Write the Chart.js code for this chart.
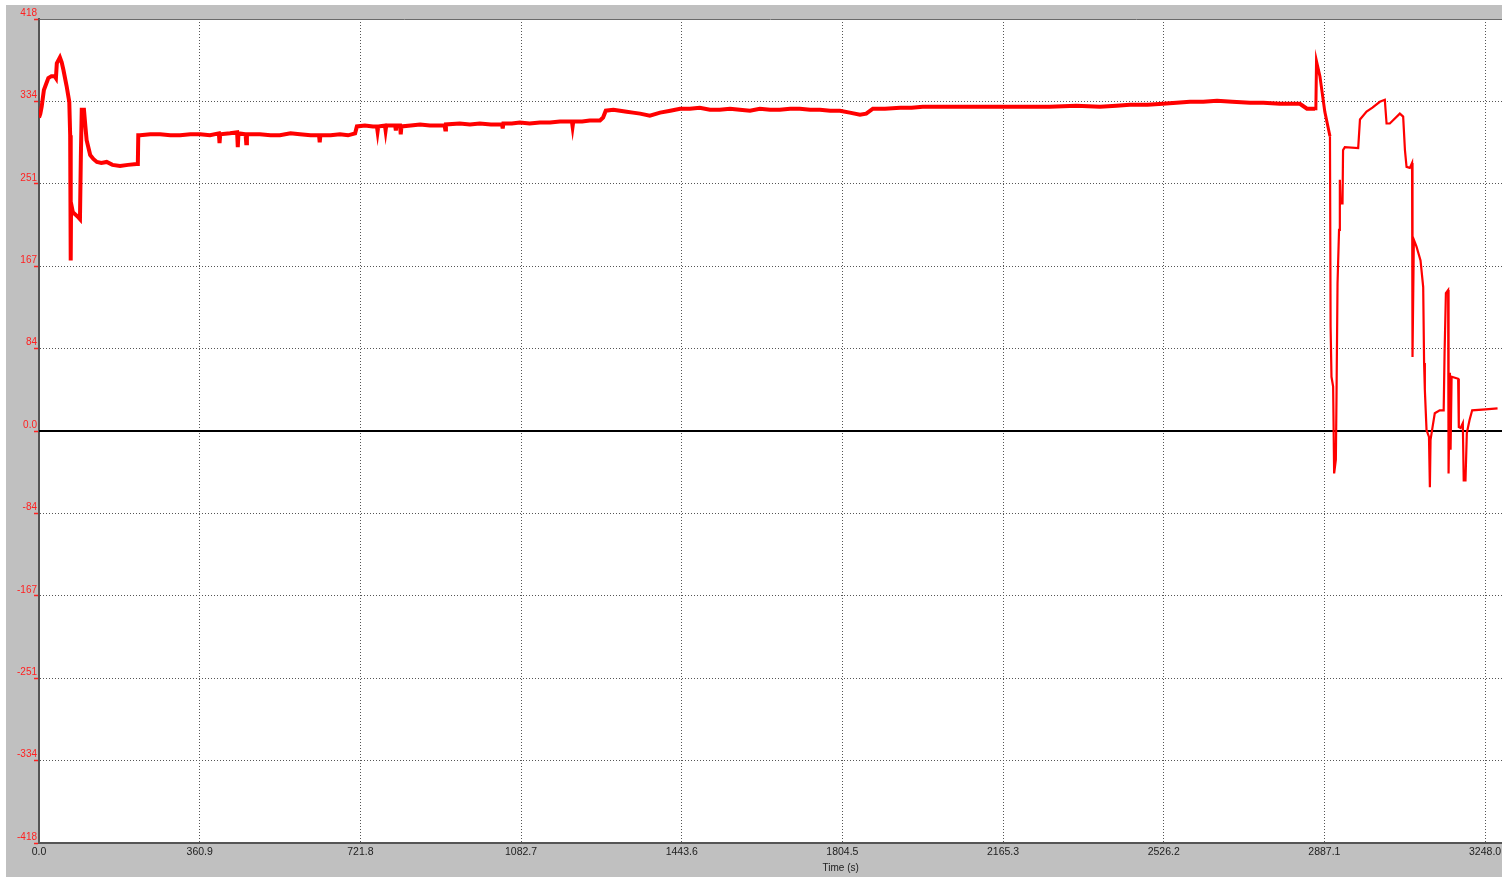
<!DOCTYPE html>
<html lang="en">
<head>
<meta charset="UTF-8">
<title>Time (s)</title>
<script src="https://cdn.jsdelivr.net/npm/chart.js"></script>
<style>
  body { margin: 0; background: #ffffff; }
  #grafico { display: block; }
</style>
</head>
<body>
<canvas id="grafico" width="1502" height="877"></canvas>
<script>
const tempo = [
  0, 3, 6, 11, 16, 21, 28, 35, 38, 40, 47, 51, 55, 62, 68, 70, 71, 71.5, 72, 76,
  88, 92, 94, 96, 101, 104, 107, 115, 122, 130, 140, 152, 165, 182, 200, 219, 222, 223, 227, 250,
  272, 295, 317, 340, 362, 384, 404, 405.5, 407, 429, 445, 446.5, 448, 464, 465.5, 467, 496, 520, 541, 565,
  586, 610, 629, 630.5, 632, 655, 676, 694, 710, 714, 732, 750, 759, 760.5, 762, 777, 778.5, 780, 788, 800,
  801.5, 803, 811, 812.5, 814, 835, 856, 878, 900, 911, 912.5, 914, 945, 968, 990, 1015, 1040, 1041.5, 1043, 1062,
  1080, 1102, 1125, 1148, 1170, 1197, 1198.5, 1200, 1220, 1237, 1260, 1267, 1273, 1290, 1305, 1320, 1334, 1350, 1372, 1395,
  1418, 1440, 1462, 1484, 1507, 1529, 1552, 1574, 1597, 1619, 1642, 1664, 1687, 1709, 1732, 1754, 1777, 1799, 1821, 1844,
  1858, 1873, 1900, 1934, 1960, 1985, 2025, 2068, 2110, 2158, 2210, 2270, 2330, 2383, 2420, 2450, 2490, 2524, 2555, 2585,
  2615, 2646, 2680, 2720, 2750, 2787, 2810, 2832, 2848, 2861, 2866, 2868, 2869.4, 2877, 2888, 2899.6, 2901, 2903, 2906.7, 2909,
  2912.8, 2914.3, 2916.6, 2920, 2921.8, 2923.3, 2927.8, 2929, 2933, 2963, 2967, 2981.8, 2995, 3011.6, 3022.8, 3026.7, 3034, 3056.5, 3064, 3068,
  3071.6, 3079, 3084, 3085, 3088, 3094, 3103, 3109, 3111, 3112.7, 3116.5, 3122, 3124, 3125.5, 3130, 3135, 3146, 3155, 3157, 3160,
  3165, 3166, 3169, 3170.5, 3172.8, 3187.5, 3189, 3193, 3198, 3200, 3204, 3207, 3213, 3219, 3249, 3276
];
const valores = [
  318, 322, 329, 346, 352, 358, 360, 360, 358, 373, 379, 374, 366, 350, 334, 300, 282, 173, 231, 222,
  217, 215, 278, 326, 326, 310, 295, 280, 276, 273, 272, 273, 270, 269, 270, 271, 271, 300, 300, 301,
  301, 300, 300, 301, 301, 300, 302, 292, 301, 302, 303, 288, 302, 301, 292, 301, 301, 300, 300, 302,
  301, 300, 300, 293, 300, 300, 301, 300, 302, 309, 310, 309, 309, 304, 309, 310, 305, 310, 310, 310,
  305, 310, 310, 301, 309, 310, 311, 310, 310, 310, 306, 311, 312, 311, 312, 311, 311, 307, 312, 312,
  313, 312, 313, 313, 314, 314, 309, 314, 314, 315, 315, 318, 325, 326, 325, 324, 323, 322, 320, 323,
  325, 327, 327, 328, 326, 326, 327, 326, 325, 327, 326, 326, 327, 327, 326, 326, 325, 325, 323, 321,
  322, 327, 327, 328, 328, 329, 329, 329, 329, 329, 329, 329, 330, 329, 330, 331, 331, 332, 333, 334,
  334, 335, 334, 333, 333, 332, 332, 332, 327, 327, 327, 330, 375, 360, 324, 299, 106, 55, 45, -43,
  -29, 35, 150, 204, 255, 231, 231, 285, 288, 287, 316, 324, 328, 334, 336, 312, 312, 322, 319, 285,
  268, 267, 272, 75, 194, 187, 173, 146, 69, 42, 1, -6, -57, -9, 4, 18, 21, 21, 79, 140,
  143, -43, 59, -19, 55, 53, 4, 3, 8, -50, -50, -2, 11, 21, 22, 23
];

const xTicks = [0, 360.9, 721.8, 1082.7, 1443.6, 1804.5, 2165.3, 2526.2, 2887.1, 3248.0];
const xLabels = ['0.0', '360.9', '721.8', '1082.7', '1443.6', '1804.5', '2165.3', '2526.2', '2887.1', '3248.0'];
const yTicks = [-418, -334.4, -250.8, -167.2, -83.6, 0, 83.6, 167.2, 250.8, 334.4, 418];
const yLabels = ['-418', '-334', '-251', '-167', '-84', '0.0', '84', '167', '251', '334', '418'];

const fonte = "'Liberation Sans', Arial, sans-serif";

const moldura = {
    id: 'moldura',
    beforeDraw(chart) {
        const { ctx, chartArea: a, width, height } = chart;
        ctx.save();
        ctx.fillStyle = '#ffffff';
        ctx.fillRect(0, 0, width, height);
        ctx.fillStyle = '#c0c0c0';
        ctx.fillRect(6, 5, width - 6, height - 5);
        ctx.fillStyle = '#ffffff';
        ctx.fillRect(a.left, a.top, a.right - a.left, a.bottom - a.top);
        ctx.restore();
    },
    beforeDatasetsDraw(chart) {
        const { ctx, chartArea: a } = chart;
        const y0 = Math.round(chart.scales.y.getPixelForValue(0));
        ctx.save();
        // linha do zero
        ctx.strokeStyle = '#000000';
        ctx.lineWidth = 2;
        ctx.beginPath();
        ctx.moveTo(a.left, y0);
        ctx.lineTo(a.right, y0);
        ctx.stroke();
        // borda de cima
        ctx.strokeStyle = '#6a6a6a';
        ctx.lineWidth = 1;
        ctx.beginPath();
        ctx.moveTo(a.left, a.top + 0.5);
        ctx.lineTo(a.right, a.top + 0.5);
        ctx.stroke();
        ctx.restore();
    },
    afterDraw(chart) {
        const { ctx, chartArea: a } = chart;
        ctx.save();
        ctx.fillStyle = '#202020';
        ctx.font = '10px ' + fonte;
        ctx.textAlign = 'center';
        ctx.textBaseline = 'middle';
        ctx.fillText('Time (s)', a.left + (a.right - a.left) * 0.548, 868);
        ctx.restore();
    }
};

const pontos = tempo.map((t, i) => ({ x: t, y: valores[i] }));

new Chart(document.getElementById('grafico'), {
    type: 'line',
    data: {
        datasets: [{
            data: pontos,
            borderColor: '#ff0000',
            borderWidth: 4,
            pointRadius: 0,
            tension: 0,
            segment: {
                borderWidth: ctx => ctx.p0.parsed.x >= 2899 ? 2.2 : (ctx.p0.parsed.x >= 2866 ? 3 : 4)
            }
        }]
    },
    options: {
        responsive: false,
        animation: false,
        devicePixelRatio: 1,
        layout: { padding: { top: 19, right: 0, left: 0, bottom: 0 } },
        plugins: {
            legend: { display: false },
            tooltip: { enabled: false }
        },
        scales: {
            x: {
                type: 'linear',
                min: 0,
                max: 3286,
                afterBuildTicks: s => { s.ticks = xTicks.map(v => ({ value: v })); },
                afterFit: s => { s.height = 34; s.paddingLeft = 0; s.paddingRight = 0; },
                ticks: {
                    callback: (v, i) => xLabels[i],
                    autoSkip: false,
                    maxRotation: 0,
                    color: '#202020',
                    padding: 3,
                    font: { family: fonte, size: 10.5 }
                },
                grid: { color: '#555555', lineWidth: 1, drawTicks: false },
                border: { display: true, color: '#555555', width: 2, dash: [1, 2] }
            },
            y: {
                min: -418,
                max: 418,
                afterBuildTicks: s => { s.ticks = yTicks.map(v => ({ value: v })); },
                afterFit: s => { s.width = 39; s.paddingTop = 0; s.paddingBottom = 0; },
                ticks: {
                    callback: (v, i) => yLabels[i],
                    autoSkip: false,
                    color: '#ff2020',
                    padding: -3,
                    labelOffset: -6,
                    font: { family: fonte, size: 10 }
                },
                grid: {
                    color: '#555555', lineWidth: 1,
                    tickLength: 5, tickColor: '#ff2020', tickWidth: 1.5, tickBorderDash: []
                },
                border: { display: true, color: '#555555', width: 2, dash: [1, 2] }
            }
        }
    },
    plugins: [moldura]
});
</script>
</body>
</html>
